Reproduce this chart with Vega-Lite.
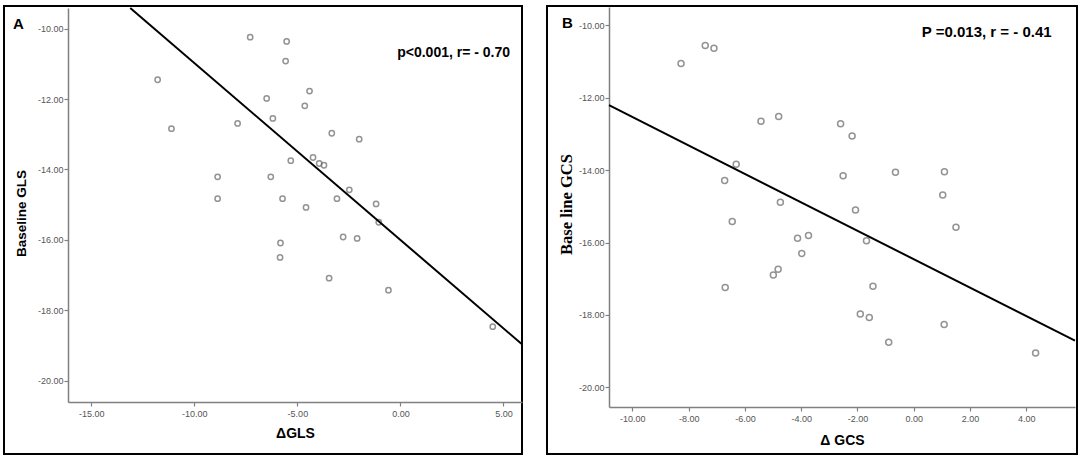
{
  "$schema": "https://vega.github.io/schema/vega-lite/v6.json",
  "padding": {"left": 3, "top": 5, "right": 0, "bottom": 0},
  "spacing": 23,
  "config": {
    "view": {"stroke": "#000000", "strokeWidth": 2},
    "font": "Liberation Sans",
    "axis": {
      "grid": false,
      "domainColor": "#808080",
      "domainWidth": 1.5,
      "tickColor": "#808080",
      "tickWidth": 1.2,
      "tickSize": 4,
      "labelColor": "#555555",
      "labelFontSize": 9,
      "labelFont": "Liberation Sans",
      "titleFont": "Liberation Sans",
      "titleFontSize": 14,
      "titleFontWeight": "bold",
      "titleColor": "#000000",
      "format": ".2f",
      "labelExpr": "replace(datum.label, '−', '-')"
    }
  },
  "hconcat": [
    {
      "width": 518,
      "height": 448,
      "title": {"text": "A", "anchor": "start", "frame": "group", "offset": -38, "dx": 9, "fontSize": 15, "fontWeight": "bold", "baseline": "alphabetic", "color": "#000000", "font": "Liberation Sans"},
      "encoding": {
        "x": {"field": "x", "type": "quantitative",
          "scale": {"domain": [-16.13, 5.9], "range": [64, 518], "nice": false, "zero": false},
          "axis": {"values": [-15, -10, -5, 0, 5], "title": "ΔGLS", "offset": -52, "labelPadding": 3, "titlePadding": 8}},
        "y": {"field": "y", "type": "quantitative",
          "scale": {"domain": [-20.61, -9.41], "range": [396, 2], "nice": false, "zero": false},
          "axis": {"values": [-20, -18, -16, -14, -12, -10], "title": "Baseline GLS", "offset": -64, "labelPadding": 1, "titlePadding": 9, "titleY": 207, "titleFontSize": 13.5}}
      },
      "layer": [
        {
          "data": {"values": [
            {"x": -11.78, "y": -11.45}, {"x": -11.11, "y": -12.84}, {"x": -7.29, "y": -10.24}, {"x": -5.52, "y": -10.36},
            {"x": -5.57, "y": -10.92}, {"x": -4.41, "y": -11.77}, {"x": -6.49, "y": -11.98}, {"x": -4.64, "y": -12.19},
            {"x": -6.19, "y": -12.55}, {"x": -7.90, "y": -12.69}, {"x": -3.33, "y": -12.97}, {"x": -2.00, "y": -13.14},
            {"x": -4.24, "y": -13.66}, {"x": -5.32, "y": -13.75}, {"x": -3.94, "y": -13.83}, {"x": -3.71, "y": -13.88},
            {"x": -8.87, "y": -14.21}, {"x": -6.29, "y": -14.21}, {"x": -2.48, "y": -14.58}, {"x": -8.87, "y": -14.83},
            {"x": -5.72, "y": -14.83}, {"x": -3.08, "y": -14.83}, {"x": -4.58, "y": -15.08}, {"x": -1.18, "y": -14.98},
            {"x": -1.05, "y": -15.50}, {"x": -2.78, "y": -15.92}, {"x": -2.10, "y": -15.96}, {"x": -5.82, "y": -16.09},
            {"x": -5.84, "y": -16.50}, {"x": -3.46, "y": -17.09}, {"x": -0.58, "y": -17.43}, {"x": 4.48, "y": -18.47}
          ]},
          "mark": {"type": "point", "shape": "circle", "filled": false, "size": 28, "stroke": "#666666", "strokeWidth": 1.5}
        },
        {
          "data": {"values": [{"x": -13.11, "y": -9.41}, {"x": 5.9, "y": -18.97}]},
          "mark": {"type": "line", "color": "#000000", "strokeWidth": 2, "clip": true}
        },
        {
          "data": {"values": [{"x": 5.32, "y": -10.69, "label": "p<0.001, r= - 0.70"}]},
          "mark": {"type": "text", "align": "right", "baseline": "middle", "fontSize": 14, "fontWeight": "bold", "color": "#000000"},
          "encoding": {"text": {"field": "label"}}
        }
      ]
    },
    {
      "width": 530,
      "height": 448,
      "title": {"text": "B", "anchor": "start", "frame": "group", "offset": -37, "dx": 15, "fontSize": 15, "fontWeight": "bold", "baseline": "alphabetic", "color": "#000000", "font": "Liberation Sans"},
      "encoding": {
        "x": {"field": "x", "type": "quantitative",
          "scale": {"domain": [-10.83, 5.73], "range": [62, 528], "nice": false, "zero": false},
          "axis": {"values": [-10, -8, -6, -4, -2, 0, 2, 4], "title": "Δ GCS", "offset": -47, "labelPadding": 3, "titlePadding": 10}},
        "y": {"field": "y", "type": "quantitative",
          "scale": {"domain": [-20.54, -9.5], "range": [401, 1], "nice": false, "zero": false},
          "axis": {"values": [-20, -18, -16, -14, -12, -10], "title": "Base line GCS", "offset": -62, "labelPadding": 1, "titlePadding": 4, "titleY": 198, "titleFont": "Liberation Serif", "titleFontSize": 16.5}}
      },
      "layer": [
        {
          "data": {"values": [
            {"x": -8.27, "y": -11.06}, {"x": -7.41, "y": -10.56}, {"x": -7.10, "y": -10.64}, {"x": -5.43, "y": -12.65},
            {"x": -4.80, "y": -12.52}, {"x": -2.60, "y": -12.72}, {"x": -2.19, "y": -13.06}, {"x": -6.31, "y": -13.84},
            {"x": -6.72, "y": -14.29}, {"x": -2.51, "y": -14.16}, {"x": -0.65, "y": -14.06}, {"x": 1.09, "y": -14.05},
            {"x": 1.03, "y": -14.69}, {"x": -4.74, "y": -14.89}, {"x": -2.07, "y": -15.10}, {"x": -6.45, "y": -15.42},
            {"x": 1.50, "y": -15.58}, {"x": -4.13, "y": -15.88}, {"x": -3.74, "y": -15.81}, {"x": -1.68, "y": -15.95},
            {"x": -3.98, "y": -16.30}, {"x": -4.82, "y": -16.74}, {"x": -4.99, "y": -16.90}, {"x": -6.70, "y": -17.24},
            {"x": -1.45, "y": -17.21}, {"x": -1.90, "y": -17.97}, {"x": -1.58, "y": -18.07}, {"x": 1.08, "y": -18.26},
            {"x": -0.89, "y": -18.75}, {"x": 4.33, "y": -19.05}
          ]},
          "mark": {"type": "point", "shape": "circle", "filled": false, "size": 36, "stroke": "#666666", "strokeWidth": 1.5}
        },
        {
          "data": {"values": [{"x": -10.83, "y": -12.21}, {"x": 5.73, "y": -18.71}]},
          "mark": {"type": "line", "color": "#000000", "strokeWidth": 2, "clip": true}
        },
        {
          "data": {"values": [{"x": 4.9, "y": -10.2, "label": "P =0.013, r = - 0.41"}]},
          "mark": {"type": "text", "align": "right", "baseline": "middle", "fontSize": 15, "fontWeight": "bold", "color": "#000000"},
          "encoding": {"text": {"field": "label"}}
        }
      ]
    }
  ]
}
